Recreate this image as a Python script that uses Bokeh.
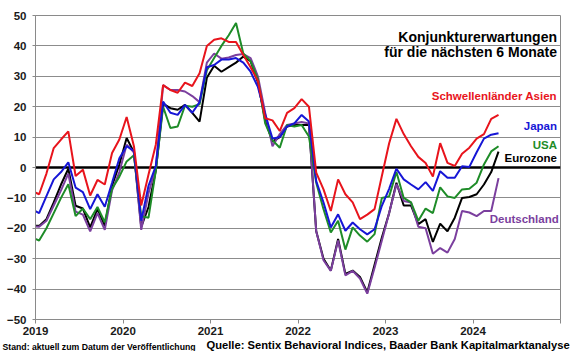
import pandas as pd
from bokeh.plotting import figure
from bokeh.layouts import column
from bokeh.models import FixedTicker, Span, Label
from bokeh.embed import file_html
from bokeh.resources import INLINE

# monthly observations, Dec 2018 .. Apr 2024
months = pd.period_range("2018-12", "2024-04", freq="M")

asien = [-7.7,
         -8.8, -2.0, 6.4, 9.2, 11.9, -2.8, -0.7, -9.2, -4.1, -5.6, 4.8, 9.2,
         16.6, 7.0, -12.5, -2.3, 7.5, 27.1, 25.5, 24.6, 27.9, 26.8, 31.0, 40.0,
         42.0, 42.5, 41.3, 41.3, 37.0, 33.0, 28.5, 16.2, 15.5, 12.0, 18.0, 19.5,
         22.5, 20.0, -1.7, -7.2, -14.3, -3.9, -8.8, -11.5, -17.0, -15.5, -13.7, -2.8,
         8.0, 16.0, 11.0, 7.0, 3.5, 1.5, -3.0, 8.0, 1.5, 0.5, 4.5, 6.5,
         9.5, 11.0, 16.0, 17.3]
japan = [-13.7,
         -15.0, -9.4, -3.9, -1.5, 1.7, -6.6, -8.1, -13.7, -8.8, -12.9, -5.0, 3.0,
         7.0, 5.5, -17.5, -6.0, 0.5, 21.7, 18.0, 17.3, 20.6, 18.0, 21.5, 33.0,
         33.7, 35.5, 35.5, 36.0, 34.5, 31.5, 26.5, 17.5, 9.5, 10.0, 13.5, 14.5,
         17.3, 15.1, -4.5, -11.5, -19.7, -15.4, -20.8, -18.1, -20.3, -22.0, -20.3, -12.6,
         -7.0, -0.4, -3.9, -5.6, -7.2, -4.8, -7.7, -1.2, -3.4, -3.4, 0.4, 0.2,
         5.0, 9.5, 10.8, 11.3]
usa = [-23.0,
       -24.0, -20.0, -15.0, -10.0, -5.5, -16.0, -13.5, -17.0, -13.0, -18.0, -7.0, -3.0,
       2.0, 4.0, -16.0, -16.5, -1.0, 20.0, 13.0, 13.5, 20.3, 20.0, 20.8, 32.0,
       36.0, 40.0, 43.5, 47.5, 37.5, 35.0, 29.0, 14.5, 9.0, 6.5, 14.0, 13.5,
       14.0, 10.2, -5.0, -13.7, -21.4, -17.5, -27.0, -19.7, -22.4, -24.4, -21.9, -10.0,
       -9.5, -1.5, -10.0, -11.5, -17.5, -13.5, -15.0, -6.5, -9.5, -10.0, -7.2, -7.0,
       -5.0, 1.0, 5.3, 7.0]
eurozone = [-19.2,
            -19.2, -17.0, -11.5, -5.6, -0.4, -12.6, -13.5, -19.7, -13.7, -19.2, -6.0, 1.0,
            9.7, 5.0, -19.5, -13.0, -1.0, 21.0, 19.5, 19.0, 20.6, 18.0, 15.1, 29.5,
            33.5, 31.5, 33.0, 34.5, 36.5, 35.0, 28.0, 15.5, 8.5, 10.0, 13.5, 14.0,
            14.0, 14.0, -21.0, -30.0, -33.9, -23.5, -35.0, -33.9, -36.0, -41.0, -32.0, -23.0,
            -15.0, -5.0, -12.5, -12.5, -18.6, -17.0, -24.5, -18.5, -21.0, -16.5, -10.0, -9.7,
            -8.8, -5.6, -1.5, 5.2]
deutschland = [-19.4,
               -19.5, -17.5, -12.5, -7.5, -2.0, -14.5, -15.5, -21.0, -15.0, -20.5, -7.5, -1.5,
               7.5, 5.0, -20.5, -8.5, 0.0, 27.1, 25.5, 25.5, 25.0, 23.5, 21.5, 34.5,
               37.5, 35.8, 36.2, 37.0, 37.3, 36.0, 30.0, 18.0, 7.0, 11.0, 14.0, 14.5,
               15.0, 14.5, -21.0, -30.5, -34.0, -24.0, -35.5, -34.0, -36.5, -41.5, -33.0, -24.0,
               -15.0, -5.5, -11.0, -11.5, -19.5, -20.0, -28.4, -26.5, -28.0, -23.5, -14.3, -14.8,
               -16.0, -14.3, -14.3, -3.5]

series_values = [eurozone, deutschland, usa, japan, asien]
series_colors = ["#000000", "#7b3f9e", "#1e8c28", "#1616d6", "#e8141c"]

year_ticks = [2019, 2020, 2021, 2022, 2023, 2024, 2025]
y_ticks = [-50, -40, -30, -20, -10, 0, 10, 20, 30, 40, 50]

x = [m.year + (m.month - 0.5) / 12 for m in months]

FONT = "Liberation Sans"

p = figure(width=572, height=339, output_backend="svg", toolbar_location=None,
           x_range=(2019, 2025), y_range=(-50, 50),
           min_border_left=35, min_border_right=12, min_border_top=15, min_border_bottom=20)
p.background_fill_color = "white"
p.border_fill_color = "white"
p.outline_line_color = "#8a8a8a"
p.outline_line_width = 1

p.xaxis.ticker = FixedTicker(ticks=year_ticks)
p.xaxis.major_label_overrides = {2025: ""}
p.yaxis.ticker = FixedTicker(ticks=y_ticks)
for ax in (p.xaxis, p.yaxis):
    ax.axis_line_color = "#8a8a8a"
    ax.major_tick_line_color = "#8a8a8a"
    ax.minor_tick_line_color = None
    ax.major_tick_in = 0
    ax.major_label_text_font = FONT
    ax.major_label_text_font_style = "bold"
    ax.major_label_text_font_size = "11.5px"
    ax.major_label_text_color = "#1a1a1a"
p.xaxis.major_tick_out = 4
p.xaxis.major_label_standoff = 3
p.yaxis.major_tick_out = 3
p.yaxis.major_label_standoff = 6

p.xgrid.grid_line_color = None
p.ygrid.grid_line_color = "#8c8c8c"
p.ygrid.grid_line_width = 1

p.add_layout(Span(location=0, dimension="width", line_color="black",
                  line_width=2.5, level="underlay"))

for vals, col in zip(series_values, series_colors):
    p.line(x, vals, line_color=col, line_width=2)

def lab(fig, xv, yv, txt, color="black", size="11.5px", align="right"):
    fig.add_layout(Label(x=xv, y=yv, text=txt,
                         text_align=align, text_baseline="middle",
                         text_font=FONT, text_font_style="bold",
                         text_font_size=size, text_color=color))

lab(p, 2024.96, 42.9, "Konjunkturerwartungen", size="14px")
lab(p, 2024.96, 37.9, "für die nächsten 6 Monate", size="14px")
lab(p, 2024.96, 23.4, "Schwellenländer Asien", color=series_colors[4])
lab(p, 2024.96, 13.6, "Japan", color=series_colors[3])
lab(p, 2024.96, 7.4, "USA", color=series_colors[2])
lab(p, 2024.96, 3.1, "Eurozone", color=series_colors[0])
lab(p, 2024.98, -17.1, "Deutschland", color=series_colors[1])

# footer strip below the chart, its frame spanning the full width
f = figure(width=572, height=12, output_backend="svg", toolbar_location=None,
           x_range=(0, 572), y_range=(0, 12), x_axis_type=None, y_axis_type=None,
           min_border=0)
try:
    f.frame_align = False
except Exception:
    pass
f.outline_line_color = None
f.xgrid.grid_line_color = None
f.ygrid.grid_line_color = None
f.background_fill_color = "white"
f.border_fill_color = "white"
lab(f, 2, 5, "Stand: aktuell zum Datum der Veröffentlichung", size="8.7px", align="left")
lab(f, 206, 6.3, "Quelle: Sentix Behavioral Indices, Baader Bank Kapitalmarktanalyse",
    size="11.2px", align="left")

layout = column(p, f, spacing=0)
open("out.html", "w").write(file_html(layout, INLINE))
